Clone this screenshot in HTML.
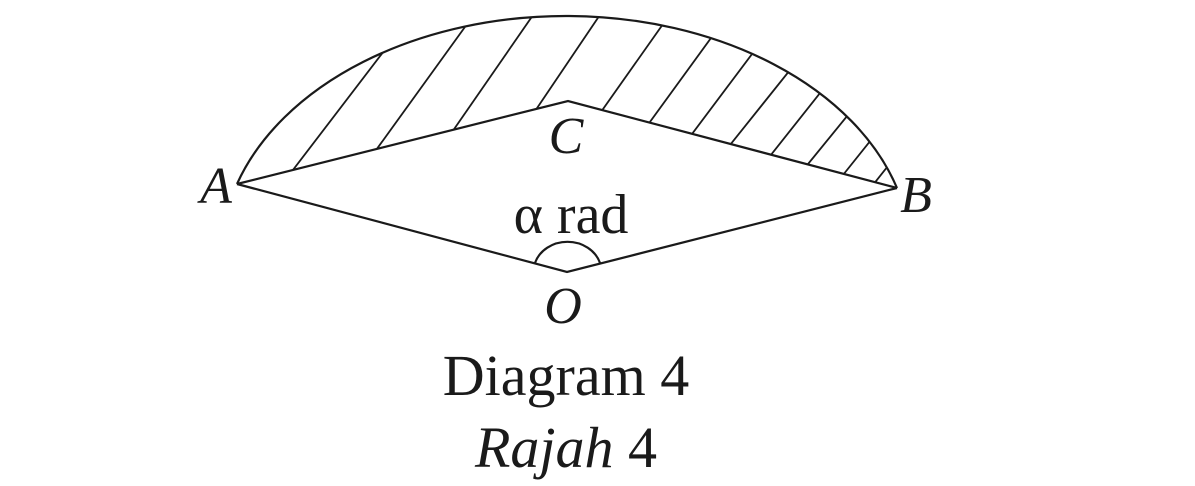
<!DOCTYPE html>
<html><head><meta charset="utf-8"><style>
html,body{margin:0;padding:0;background:#fff;}
svg{display:block;}
text{font-family:"Liberation Serif",serif;fill:#1a1a1a;}
</style></head><body>
<svg width="1195" height="486" viewBox="0 0 1195 486">
<defs>
<clipPath id="c"><path d="M237 184 A345 240 0 0 1 897 188 L568 101 Z"/></clipPath>
</defs>
<g stroke="#1a1a1a" stroke-width="2.2" fill="none">
<path d="M237 184 A345 240 0 0 1 897 188"/>
<path d="M237 184 L568 101 L897 188"/>
<path d="M237 184 L567 272 L897 188"/>
<path d="M535 263 A34 30 0 0 1 600 263"/>
<g clip-path="url(#c)" stroke-width="1.8">
<line x1="270" y1="200" x2="400" y2="30"/>
<line x1="340" y1="200" x2="470" y2="20"/>
<line x1="405" y1="200" x2="540" y2="5"/>
<line x1="475" y1="200" x2="610" y2="0"/>
<line x1="560" y1="170" x2="680" y2="0"/>
<line x1="615" y1="170" x2="735" y2="5"/>
<line x1="665" y1="170" x2="785" y2="10"/>
<line x1="710" y1="170" x2="830" y2="20"/>
<line x1="755" y1="175" x2="870" y2="30"/>
<line x1="795" y1="180" x2="905" y2="45"/>
<line x1="835" y1="185" x2="935" y2="60"/>
<line x1="865" y1="195" x2="960" y2="75"/>
</g>
</g>
<text x="216" y="203" font-size="52" font-style="italic" text-anchor="middle">A</text>
<text x="916" y="212" font-size="52" font-style="italic" text-anchor="middle">B</text>
<text x="566" y="153" font-size="52" font-style="italic" text-anchor="middle">C</text>
<text x="571" y="233" font-size="56" text-anchor="middle">α rad</text>
<text x="563" y="323" font-size="52" font-style="italic" text-anchor="middle">O</text>
<text x="566" y="395" font-size="58" text-anchor="middle">Diagram 4</text>
<text x="566" y="467" font-size="58" text-anchor="middle"><tspan font-style="italic">Rajah</tspan> 4</text>
</svg>
</body></html>
